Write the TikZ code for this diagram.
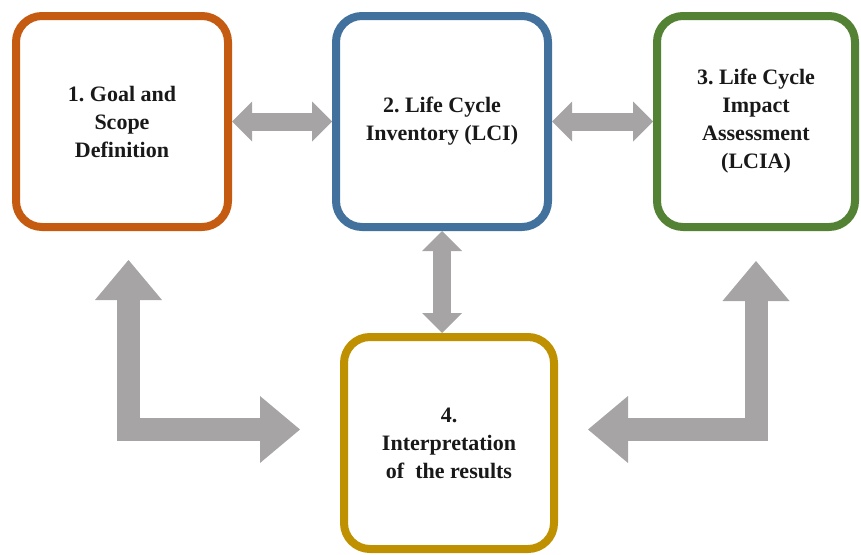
\documentclass[tikz,border=0pt]{standalone}
\usepackage{fontspec}
\setmainfont{Liberation Serif}
\frenchspacing
\usetikzlibrary{positioning,calc,arrows.meta}
\definecolor{goalc}{RGB}{197, 90, 17}
\definecolor{lcic}{RGB}{65, 113, 156}
\definecolor{lciac}{RGB}{84, 130, 53}
\definecolor{interc}{RGB}{191, 144, 0}
\definecolor{arrowc}{RGB}{166, 164, 165}
\tikzset{
	phase/.style={
		rectangle, rounded corners=26pt, line width=8pt, fill=white,
		minimum width=212pt, minimum height=211pt, align=center,
		font=\fontsize{22}{28}\selectfont\bfseries, text=black!90
	},
	%
	fatarrow/.style={
		draw=arrowc, line width=18pt,
		{Triangle[width=40pt,length=20pt,line width=0pt]}-{Triangle[width=40pt,length=20pt,line width=0pt]}
	},
	%
	bigarrow/.style={
		draw=arrowc, line width=23pt, line join=miter,
		{Triangle[width=67pt,length=40pt,line width=0pt]}-{Triangle[width=67pt,length=40pt,line width=0pt]}
	}
}

\begin{document}
\begin{tikzpicture}[x=1pt, y=-1pt]
\useasboundingbox (0,0) rectangle (861,554);

\node(goal)[phase, draw=goalc] at (122,121.5) {1. Goal and\\Scope\\Definition};
\node(lci)[phase, draw=lcic, right=100pt of goal] {2. Life Cycle\\Inventory (LCI)};
\node(lcia)[phase, draw=lciac, right=101pt of lci, minimum width=198pt] {3. Life Cycle\\Impact\\Assessment\\(LCIA)};
\node(interp)[phase, draw=interc, below=102pt of lci, xshift=7pt, minimum width=210pt, minimum height=212pt] {4.\\Interpretation\\of~ the results};

% straight links between the phases
\draw[fatarrow] (goal) -- (lci);
\draw[fatarrow] (lci) -- (lcia);
\draw[fatarrow] (lci.south) -- (lci.south |- interp.north);

% feedback from interpretation
\coordinate (goal-in) at ([xshift=6.5pt, yshift=-29pt]goal.south);
\coordinate (interp-w) at ([xshift=-40pt, yshift=13.5pt]interp.west);
\coordinate (lcia-in) at ([yshift=-30pt]lcia.south);
\coordinate (interp-e) at ([xshift=30pt, yshift=13.5pt]interp.east);
\draw[bigarrow] (goal-in) |- (interp-w);
\draw[bigarrow] (lcia-in) |- (interp-e);
\end{tikzpicture}
\end{document}
